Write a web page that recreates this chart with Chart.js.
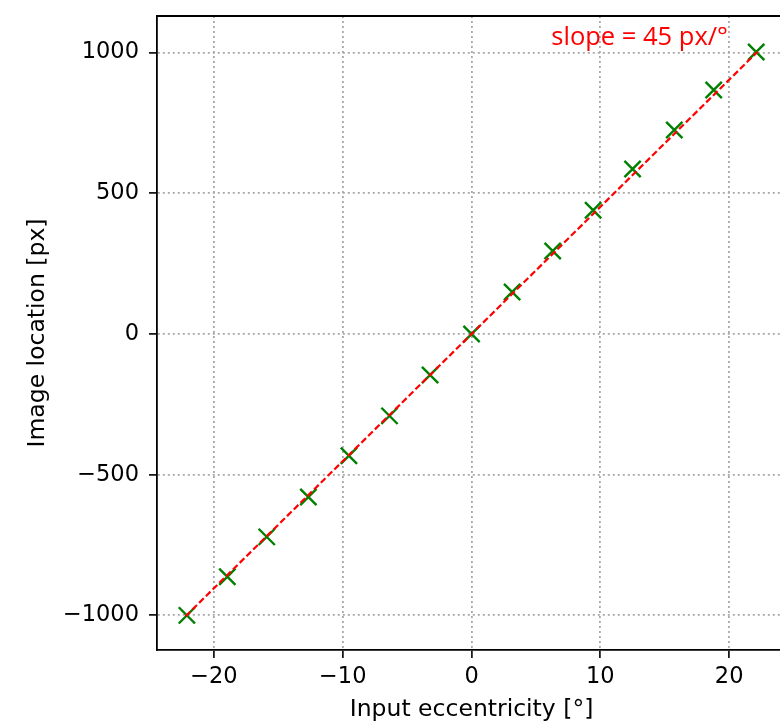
<!DOCTYPE html>
<html lang="en">
  <head>
    <meta charset="UTF-8" />
    <title>Image location vs eccentricity</title>
    <script src="https://cdn.jsdelivr.net/npm/chart.js"></script>
    <style>
      html, body { margin: 0; padding: 0; background: #fff; overflow: hidden; }
      .chart-box { width: 800px; height: 721px; }
    </style>
  </head>
  <body>
    <div class="chart-box">
      <canvas id="myChart" width="800" height="721"></canvas>
    </div>
    <script>
      // measured points (input eccentricity in degrees, image location in px)
      const eccentricity = [-22.1, -18.96, -15.9, -12.67, -9.52, -6.37, -3.22, 0, 3.15, 6.3, 9.44, 12.5, 15.74, 18.8, 22.1];
      const location_px = [-1000, -863, -721, -579, -433, -291, -146, 0, 149, 295, 440, 586, 725, 867, 1002];
      // fitted line end points
      const fitX = [-22.2, 22.2];
      const fitY = [-1003, 1003];
      const xTicks = [-20, -10, 0, 10, 20];
      const yTicks = [-1000, -500, 0, 500, 1000];
      const slopeLabel = "slope = 45 px/°";

      const tickFont = { family: "DejaVu Sans", size: 22.5 };
      const titleFont = { family: "DejaVu Sans", size: 23.5 };
      const fmt = (v) => (v < 0 ? "\u2212" + Math.abs(v) : String(v));

      const frame = {
        id: "frame",
        afterDraw(chart) {
          const { ctx, chartArea } = chart;
          ctx.save();
          ctx.strokeStyle = "#000";
          ctx.lineWidth = 1.8;
          ctx.beginPath();
          ctx.moveTo(chartArea.left, chartArea.top);
          ctx.lineTo(chartArea.right, chartArea.top);
          ctx.lineTo(chartArea.right, chartArea.bottom);
          ctx.stroke();
          ctx.fillStyle = "red";
          ctx.font = "25.5px 'Open Sans'";
          ctx.textAlign = "right";
          ctx.textBaseline = "alphabetic";
          ctx.fillText(slopeLabel, 728, 45);
          ctx.restore();
        },
      };

      const ctx = document.getElementById("myChart");
      new Chart(ctx, {
        type: "scatter",
        data: {
          datasets: [
            {
              type: "line",
              data: fitX.map((x, i) => ({ x: x, y: fitY[i] })),
              borderColor: "red",
              borderWidth: 2.2,
              borderDash: [6.5, 3],
              pointRadius: 0,
              fill: false,
            },
            {
              data: eccentricity.map((x, i) => ({ x: x, y: location_px[i] })),
              pointStyle: "crossRot",
              pointRadius: 11.5,
              pointBorderColor: "#008000",
              pointBorderWidth: 2.4,
              pointBackgroundColor: "#008000",
            },
          ],
        },
        options: {
          responsive: false,
          animation: false,
          layout: { padding: { top: 16, right: 8, bottom: 0, left: 0 } },
          plugins: { legend: { display: false }, tooltip: { enabled: false } },
          scales: {
            x: {
              type: "linear",
              min: -24.42,
              max: 24.42,
              afterBuildTicks: (s) => { s.ticks = xTicks.map((v) => ({ value: v })); },
              afterFit: (s) => { s.height = 71; s.paddingLeft = 0; s.paddingRight = 0; },
              ticks: { color: "#000", font: tickFont, padding: 6, maxRotation: 0, callback: fmt },
              grid: { color: "#a8a8a8", lineWidth: 1.8, tickColor: "#000", tickLength: 8, tickWidth: 1.6 },
              border: { color: "#000", width: 1.8, dash: [2, 3] },
              title: { display: true, text: "Input eccentricity [°]", color: "#000", font: titleFont, padding: { top: 0, bottom: -3 } },
            },
            y: {
              type: "linear",
              min: -1123,
              max: 1130,
              afterBuildTicks: (s) => { s.ticks = yTicks.map((v) => ({ value: v })); },
              afterFit: (s) => { s.width = 157; s.paddingTop = 0; s.paddingBottom = 0; },
              ticks: { color: "#000", font: tickFont, padding: 10, callback: fmt },
              grid: { color: "#a8a8a8", lineWidth: 1.8, tickColor: "#000", tickLength: 8, tickWidth: 1.6 },
              border: { color: "#000", width: 1.8, dash: [2, 3] },
              title: { display: true, text: "Image location [px]", color: "#000", font: titleFont, padding: { top: 24, bottom: 0 } },
            },
          },
        },
        plugins: [frame],
      });
    </script>
  </body>
</html>
